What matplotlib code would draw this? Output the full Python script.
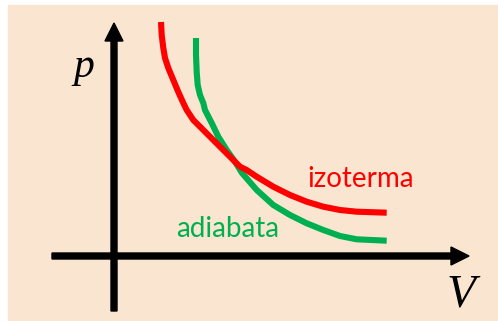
import matplotlib.pyplot as plt
from matplotlib.patches import Rectangle

# curves (V to the right, p upward, origin at the axes crossing)
iso_V = [47, 47.7, 49.3, 51, 54.3, 59.3, 64.3, 69.3, 72.7, 79.3, 89.3, 99.3,
         109.3, 119.3, 126, 132.7, 142.7, 159.3, 176, 192.7, 209.3, 226, 242.7, 272.7]
iso_p = [234, 221, 208, 198, 188, 176, 164, 153, 146, 136, 126, 116,
         106, 96, 89.3, 86, 79.3, 69.3, 61, 54.3, 49.3, 46, 44.3, 43.3]

adi_V = [82, 82, 82.7, 83.7, 86, 89.3, 91, 97.7, 104.3, 112.7, 121, 128,
         142.7, 159.3, 176, 192.7, 209.3, 226, 242.7, 272.7]
adi_p = [218, 201, 184, 171, 161, 153, 146, 133, 119.3, 106, 94.3, 83,
         66, 51, 41, 32.7, 26, 20, 16.7, 15.3]

RED = "#FF0000"
GREEN = "#00B050"
BG = "#FAE6D0"

fig = plt.figure(figsize=(4.98, 3.21), dpi=100)
fig.patch.set_facecolor("white")
ax = fig.add_axes([0, 0, 1, 1])
ax.set_xlim(-114, 384)
ax.set_ylim(-65, 256)
ax.axis("off")

# beige panel
ax.add_patch(Rectangle((-106, -65), 490, 316, color=BG, zorder=0))

# axes with arrows
ax.arrow(0, -55, 0, 288, width=6, head_width=18, head_length=18,
         length_includes_head=True, color="black", zorder=2)
ax.arrow(-62, 0, 417, 0, width=6, head_width=18, head_length=18,
         length_includes_head=True, color="black", zorder=2)

# curves
ax.plot(adi_V, adi_p, color=GREEN, linewidth=4.4, solid_capstyle="butt",
        solid_joinstyle="round", zorder=3)
ax.plot(iso_V, iso_p, color=RED, linewidth=4.4, solid_capstyle="butt",
        solid_joinstyle="round", zorder=4)

# labels
ax.text(-30, 189, "p", family="Liberation Serif", style="italic", fontsize=30,
        ha="center", va="center")
ax.text(347, -39, "V", family="Liberation Serif", style="italic", fontsize=34,
        ha="center", va="center")
ax.text(247, 69, "izoterma", color=RED, family="Lato", fontsize=20,
        ha="center", va="baseline")
ax.text(114, 19, "adiabata", color=GREEN, family="Lato", fontsize=20,
        ha="center", va="baseline")

fig.savefig("out.png", dpi=100, facecolor=fig.get_facecolor())
